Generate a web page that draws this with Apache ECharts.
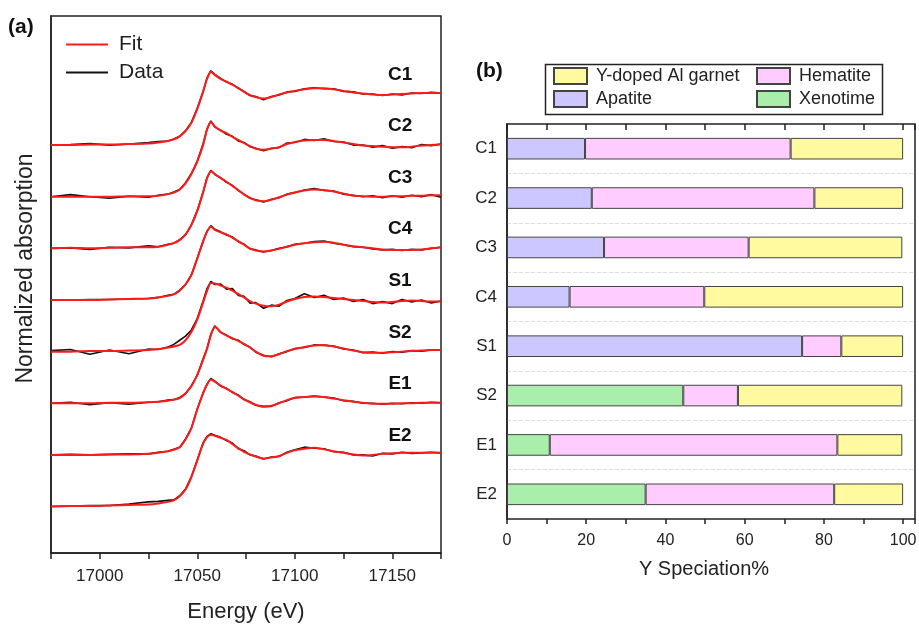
<!DOCTYPE html>
<html>
<head>
<meta charset="utf-8">
<script src="https://cdn.jsdelivr.net/npm/echarts@6/dist/echarts.min.js"></script>
<style>
  html, body { margin: 0; padding: 0; background: #fff; }
  #chart { width: 919px; height: 624px; }
</style>
</head>
<body>
<div id="chart"></div>
<script>
// energy grid (eV) shared by all spectra
const energy = [16975, 16985, 16995, 17005, 17015, 17025, 17030, 17035, 17038, 17041, 17044, 17047,
  17050, 17053, 17055, 17057, 17059, 17062, 17065, 17068, 17071, 17074, 17077, 17080,
  17084, 17088, 17092, 17096, 17100, 17105, 17110, 17115, 17120, 17125, 17130, 17135,
  17140, 17145, 17150, 17155, 17160, 17165, 17170, 17175];

const samples = ['C1', 'C2', 'C3', 'C4', 'S1', 'S2', 'E1', 'E2'];
const offsets = [7, 6, 5, 4, 3, 2, 1, 0];

// normalized fits
const fitC1 = [0.00, 0.00, 0.01, 0.01, 0.02, 0.03, 0.05, 0.08, 0.11, 0.17, 0.27, 0.43, 0.70, 1.03, 1.28, 1.42, 1.36, 1.28, 1.23, 1.17, 1.11, 1.03, 0.97, 0.93, 0.90, 0.93, 0.98, 1.02, 1.05, 1.08, 1.10, 1.10, 1.08, 1.05, 1.02, 1.00, 0.98, 0.97, 0.98, 0.99, 1.00, 1.01, 1.01, 1.01];
const fitC2 = [0.00, 0.00, 0.00, 0.00, 0.01, 0.01, 0.02, 0.05, 0.08, 0.14, 0.26, 0.44, 0.68, 1.00, 1.30, 1.45, 1.36, 1.28, 1.23, 1.16, 1.10, 1.04, 0.98, 0.93, 0.91, 0.93, 0.96, 1.02, 1.06, 1.09, 1.10, 1.10, 1.08, 1.05, 1.02, 0.99, 0.98, 0.97, 0.96, 0.96, 0.97, 0.99, 1.00, 1.01];
const fitC3 = [0.00, 0.01, 0.00, 0.01, 0.02, 0.02, 0.03, 0.07, 0.10, 0.16, 0.27, 0.45, 0.72, 1.08, 1.35, 1.50, 1.44, 1.36, 1.29, 1.21, 1.13, 1.04, 0.98, 0.93, 0.91, 0.94, 0.99, 1.04, 1.08, 1.12, 1.14, 1.13, 1.10, 1.06, 1.02, 1.01, 1.00, 1.00, 1.01, 1.01, 1.02, 1.02, 1.03, 1.03];
const fitC4 = [0.00, 0.00, 0.00, 0.01, 0.02, 0.03, 0.05, 0.08, 0.11, 0.18, 0.30, 0.48, 0.80, 1.13, 1.32, 1.42, 1.36, 1.31, 1.27, 1.21, 1.14, 1.07, 1.00, 0.96, 0.94, 0.96, 0.99, 1.03, 1.07, 1.10, 1.12, 1.13, 1.11, 1.07, 1.04, 1.02, 1.00, 0.98, 0.97, 0.97, 0.97, 0.98, 1.00, 1.02];
const fitS1 = [0.00, 0.00, 0.01, 0.01, 0.02, 0.03, 0.05, 0.08, 0.10, 0.13, 0.22, 0.38, 0.62, 0.95, 1.17, 1.33, 1.32, 1.28, 1.24, 1.18, 1.12, 1.05, 0.98, 0.93, 0.89, 0.88, 0.91, 0.97, 1.02, 1.06, 1.07, 1.06, 1.04, 1.02, 1.00, 0.98, 0.96, 0.95, 0.96, 0.98, 0.99, 0.98, 0.97, 0.97];
const fitS2 = [0.00, 0.00, 0.00, 0.01, 0.01, 0.02, 0.03, 0.05, 0.07, 0.10, 0.19, 0.33, 0.55, 0.84, 1.05, 1.32, 1.48, 1.38, 1.31, 1.26, 1.21, 1.15, 1.08, 1.00, 0.92, 0.91, 0.95, 1.01, 1.05, 1.09, 1.12, 1.13, 1.10, 1.06, 1.02, 0.99, 0.98, 0.98, 0.99, 1.00, 1.01, 1.02, 1.03, 1.03];
const fitE1 = [0.00, 0.00, 0.00, 0.01, 0.01, 0.02, 0.04, 0.07, 0.10, 0.15, 0.30, 0.52, 0.88, 1.19, 1.36, 1.46, 1.42, 1.34, 1.28, 1.22, 1.15, 1.08, 1.02, 0.97, 0.93, 0.95, 1.00, 1.06, 1.10, 1.12, 1.13, 1.12, 1.09, 1.06, 1.03, 1.01, 0.99, 0.99, 0.99, 1.00, 1.00, 1.01, 1.01, 1.01];
const fitE2 = [0.00, 0.01, 0.01, 0.02, 0.03, 0.04, 0.06, 0.09, 0.12, 0.20, 0.33, 0.57, 0.89, 1.22, 1.34, 1.39, 1.37, 1.33, 1.29, 1.21, 1.13, 1.06, 1.01, 0.97, 0.93, 0.95, 0.98, 1.04, 1.09, 1.12, 1.14, 1.11, 1.07, 1.04, 1.01, 0.99, 1.00, 1.02, 1.03, 1.04, 1.04, 1.04, 1.04, 1.04];

// normalized measured data
const dataC1 = [0.00, 0.01, 0.03, 0.00, 0.02, 0.05, 0.07, 0.08, 0.12, 0.17, 0.28, 0.44, 0.71, 1.04, 1.30, 1.44, 1.37, 1.29, 1.22, 1.18, 1.10, 1.04, 0.96, 0.94, 0.88, 0.94, 0.97, 1.03, 1.04, 1.09, 1.11, 1.09, 1.09, 1.04, 1.03, 0.99, 0.99, 0.96, 0.99, 0.97, 1.01, 1.00, 1.02, 1.01];
const dataC2 = [0.00, 0.04, 0.00, -0.03, 0.01, -0.01, 0.03, 0.05, 0.09, 0.14, 0.27, 0.45, 0.69, 1.02, 1.31, 1.47, 1.35, 1.29, 1.21, 1.17, 1.08, 1.05, 0.97, 0.94, 0.89, 0.94, 0.95, 1.04, 1.05, 1.11, 1.09, 1.12, 1.07, 1.06, 1.00, 1.00, 0.96, 0.99, 0.94, 0.97, 0.95, 1.01, 0.99, 1.02];
const dataC3 = [0.00, 0.01, -0.02, 0.02, 0.01, 0.05, 0.03, 0.08, 0.10, 0.17, 0.26, 0.46, 0.73, 1.09, 1.37, 1.51, 1.43, 1.37, 1.28, 1.22, 1.12, 1.05, 0.97, 0.94, 0.90, 0.95, 0.98, 1.05, 1.08, 1.13, 1.16, 1.12, 1.11, 1.05, 1.03, 1.00, 1.02, 0.98, 1.02, 0.99, 1.03, 1.00, 1.04, 0.99];
const dataC4 = [0.00, 0.00, 0.01, 0.01, 0.02, 0.03, 0.05, 0.09, 0.11, 0.19, 0.30, 0.49, 0.81, 1.14, 1.33, 1.44, 1.37, 1.32, 1.26, 1.22, 1.13, 1.08, 0.99, 0.97, 0.93, 0.96, 1.00, 1.03, 1.08, 1.10, 1.13, 1.14, 1.10, 1.07, 1.03, 1.02, 0.99, 0.97, 0.98, 0.96, 0.98, 0.97, 1.00, 1.02];
const dataS1 = [0.02, 0.04, -0.05, 0.03, -0.04, 0.05, 0.04, 0.09, 0.14, 0.22, 0.30, 0.42, 0.64, 0.98, 1.22, 1.36, 1.30, 1.31, 1.21, 1.22, 1.09, 1.07, 0.94, 0.95, 0.84, 0.90, 0.88, 0.99, 1.03, 1.12, 1.05, 1.09, 1.01, 1.04, 0.97, 1.01, 0.93, 0.97, 0.93, 1.01, 0.96, 1.00, 0.94, 0.98];
const dataS2 = [0.00, 0.02, -0.03, 0.01, -0.02, 0.02, 0.03, 0.06, 0.07, 0.11, 0.19, 0.34, 0.54, 0.86, 1.06, 1.34, 1.50, 1.37, 1.32, 1.25, 1.22, 1.14, 1.09, 0.99, 0.93, 0.90, 0.96, 1.00, 1.06, 1.08, 1.13, 1.12, 1.11, 1.05, 1.03, 0.98, 0.99, 0.97, 1.00, 0.99, 1.02, 1.01, 1.03, 1.03];
const dataE1 = [0.00, 0.01, 0.00, 0.01, 0.02, 0.02, 0.05, 0.07, 0.11, 0.15, 0.31, 0.52, 0.89, 1.20, 1.37, 1.48, 1.43, 1.33, 1.29, 1.21, 1.16, 1.07, 1.03, 0.96, 0.94, 0.94, 1.01, 1.05, 1.11, 1.12, 1.14, 1.12, 1.10, 1.05, 1.04, 1.00, 1.00, 0.98, 1.00, 0.99, 1.01, 1.00, 1.02, 1.01];
const dataE2 = [0.00, 0.01, 0.02, 0.02, 0.05, 0.09, 0.10, 0.12, 0.13, 0.21, 0.34, 0.58, 0.90, 1.23, 1.36, 1.41, 1.38, 1.34, 1.28, 1.23, 1.12, 1.08, 1.00, 0.98, 0.92, 0.96, 0.97, 1.05, 1.10, 1.15, 1.13, 1.12, 1.06, 1.05, 1.00, 1.00, 0.98, 1.03, 1.02, 1.05, 1.03, 1.04, 1.05, 1.04];

const fits = [fitC1, fitC2, fitC3, fitC4, fitS1, fitS2, fitE1, fitE2];
const measured = [dataC1, dataC2, dataC3, dataC4, dataS1, dataS2, dataE1, dataE2];

// speciation (%)
const apatite = [19.7, 21.4, 24.5, 15.8, 74.5, null, null, null];
const xenotime = [null, null, null, null, null, 44.5, 10.8, 35.0];
const hematite = [51.9, 56.2, 36.5, 34.0, 9.9, 13.8, 72.6, 47.6];
const garnet = [28.4, 22.4, 38.8, 50.2, 15.6, 41.5, 16.4, 17.4];

const FONT = 'Liberation Sans, Arial, sans-serif';
const chart = echarts.init(document.getElementById('chart'));

const pairs = (arr, off) => arr.map((v, i) => [energy[i], v + off]);

const series = [];
samples.forEach((s, k) => {
  series.push({
    name: 'Data', type: 'line', xAxisIndex: 0, yAxisIndex: 0,
    symbol: 'none', lineStyle: { color: '#111', width: 1.6 }, itemStyle: { color: '#111' },
    data: pairs(measured[k], offsets[k]), z: 2
  });
});
samples.forEach((s, k) => {
  series.push({
    name: 'Fit', type: 'line', xAxisIndex: 0, yAxisIndex: 0, smooth: 0.25,
    symbol: 'none', lineStyle: { color: '#ff1a1a', width: 2 }, itemStyle: { color: '#ff1a1a' },
    data: pairs(fits[k], offsets[k]), z: 3,
    markPoint: {
      symbol: 'rect', symbolSize: 1, itemStyle: { color: 'transparent' },
      label: { show: true, position: 'inside', formatter: s, fontWeight: 'bold', fontSize: 19, color: '#111', fontFamily: FONT },
      data: [{ coord: [17154, offsets[k] + 1.37] }]
    }
  });
});

const barBase = { type: 'bar', stack: 'sp', xAxisIndex: 1, yAxisIndex: 1, barWidth: 21.6 };
series.push(Object.assign({}, barBase, { name: 'Apatite', data: apatite, itemStyle: { color: '#cdc7ff', borderColor: '#444', borderWidth: 1 } }));
series.push(Object.assign({}, barBase, { name: 'Xenotime', data: xenotime, itemStyle: { color: '#a9eeaa', borderColor: '#444', borderWidth: 1 } }));
series.push(Object.assign({}, barBase, { name: 'Hematite', data: hematite, itemStyle: { color: '#ffccff', borderColor: '#444', borderWidth: 1 } }));
series.push(Object.assign({}, barBase, { name: 'Y-doped Al garnet', data: garnet, itemStyle: { color: '#fff9a0', borderColor: '#444', borderWidth: 1 } }));

const option = {
  animation: false,
  textStyle: { fontFamily: FONT },
  grid: [
    { left: 51, top: 16, width: 390, height: 537, outerBoundsMode: 'none', show: true, borderColor: '#222', borderWidth: 1.5 },
    { left: 507, top: 124, width: 408, height: 395, outerBoundsMode: 'none', show: true, borderColor: '#222', borderWidth: 1.5 }
  ],
  xAxis: [
    {
      gridIndex: 0, type: 'value', min: 16975, max: 17175, interval: 25, z: 5,
      axisLine: { onZero: false, lineStyle: { color: '#222', width: 1.5 } },
      axisTick: { inside: false, length: 6, lineStyle: { color: '#222', width: 1.5 } },
      axisLabel: { fontSize: 17, color: '#222', margin: 15, formatter: v => (v % 50 === 0 ? String(v) : '') },
      splitLine: { show: false },
      name: 'Energy (eV)', nameLocation: 'middle', nameGap: 48,
      nameTextStyle: { fontSize: 22, color: '#222' }
    },
    {
      gridIndex: 1, type: 'value', min: 0, max: 103, interval: 10, z: 5,
      axisLine: { onZero: false, lineStyle: { color: '#222', width: 1.5 } },
      axisTick: { show: true, inside: false, length: 5, lineStyle: { color: '#222', width: 1.5 } },
      axisLabel: { fontSize: 16, color: '#222', margin: 14, formatter: v => (v % 20 === 0 && v <= 100 ? String(v) : '') },
      splitLine: { show: false },
      name: 'Y Speciation%', nameLocation: 'middle', nameGap: 40,
      nameTextStyle: { fontSize: 20, color: '#222', padding: [0, 14, 0, 0] }
    },
    {
      gridIndex: 1, type: 'value', position: 'top', min: 0, max: 103, interval: 10, z: 5,
      axisLine: { onZero: false, lineStyle: { color: '#222', width: 1.5 } },
      axisTick: { show: true, inside: true, length: 6, lineStyle: { color: '#222', width: 1.5 } },
      axisLabel: { show: false }, splitLine: { show: false }
    }
  ],
  yAxis: [
    {
      gridIndex: 0, type: 'value', min: -0.9, max: 9.5,
      axisLine: { show: true, onZero: false, lineStyle: { color: '#222', width: 1.5 } },
      axisTick: { show: false }, axisLabel: { show: false }, splitLine: { show: false },
      name: 'Normalized absorption', nameLocation: 'middle', nameGap: 14,
      nameTextStyle: { fontSize: 23, color: '#222', padding: [0, 0, 0, 32] }
    },
    {
      gridIndex: 1, type: 'category', data: samples, inverse: true, z: 1,
      axisLine: { show: true, onZero: false, lineStyle: { color: '#222', width: 1.5 } },
      axisTick: { show: false },
      axisLabel: { fontSize: 17, color: '#222', margin: 10 },
      splitLine: { show: true, showMinLine: false, showMaxLine: false, lineStyle: { color: '#dedede', type: 'dashed', width: 1 } }
    }
  ],
  legend: [
    {
      data: ['Fit', 'Data'], orient: 'vertical', left: 66, top: 34, padding: 0,
      icon: 'rect', itemWidth: 42, itemHeight: 2, itemGap: 7,
      textStyle: { fontSize: 21, lineHeight: 21, color: '#222', padding: [0, 0, 0, 6] }
    },
    {
      data: ['Y-doped Al garnet', 'Apatite'], orient: 'vertical', left: 553, top: 66, padding: 0,
      icon: 'rect', itemWidth: 33, itemHeight: 16, itemGap: 3,
      textStyle: { fontSize: 18, lineHeight: 20, color: '#222', padding: [0, 0, 0, 4] }
    },
    {
      data: ['Hematite', 'Xenotime'], orient: 'vertical', left: 756, top: 66, padding: 0,
      icon: 'rect', itemWidth: 33, itemHeight: 16, itemGap: 3,
      textStyle: { fontSize: 18, lineHeight: 20, color: '#222', padding: [0, 0, 0, 4] }
    }
  ],
  graphic: [
    { type: 'rect', left: 543, top: 62, shape: { width: 337, height: 50 }, style: { fill: 'none', stroke: '#222', lineWidth: 1.5 }, z: 10 },
    { type: 'text', left: 8, top: 17, style: { text: '(a)', font: 'bold 21px ' + FONT, fill: '#111' } },
    { type: 'text', left: 476, top: 61, style: { text: '(b)', font: 'bold 21px ' + FONT, fill: '#111' } }
  ],
  series: series
};

chart.setOption(option);
window.addEventListener('resize', () => chart.resize());
</script>
</body>
</html>
